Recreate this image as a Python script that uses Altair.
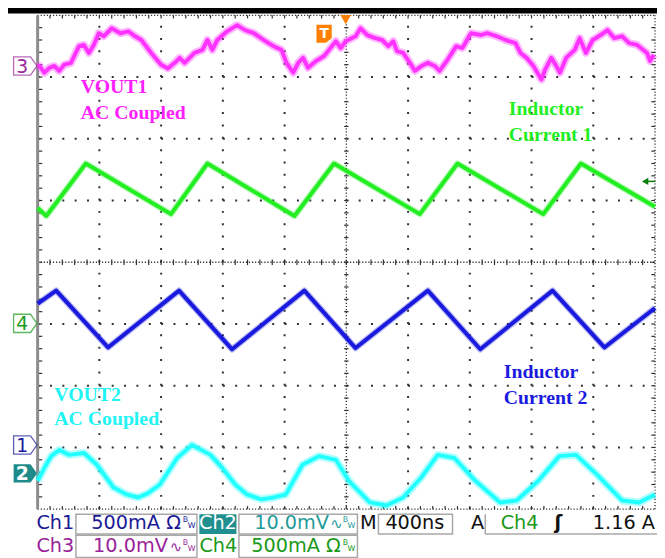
import altair as alt
import pandas as pd
import numpy as np

# Oscilloscope screen: 10 horizontal divisions (400 ns/div), 8 vertical divisions.
# x = divisions from the left graticule edge, y = divisions from the bottom edge.

# Ch3 - VOUT1 (AC coupled, 10 mV/div), magenta
ch3_x = [0.00, 0.03, 0.11, 0.19, 0.27, 0.35, 0.43, 0.54, 0.67, 0.75, 0.83, 0.91, 0.99, 1.07, 1.20, 1.34,
         1.47, 1.58, 1.68, 1.84, 2.00, 2.11, 2.22, 2.30, 2.38, 2.54, 2.67, 2.75, 2.83, 2.91, 3.07, 3.23,
         3.36, 3.50, 3.66, 3.82, 3.95, 4.03, 4.14, 4.22, 4.30, 4.38, 4.51, 4.64, 4.72, 4.83, 4.91, 4.99,
         5.15, 5.23, 5.34, 5.47, 5.58, 5.68, 5.76, 5.82, 5.92, 6.03, 6.11, 6.22, 6.32, 6.43, 6.51, 6.64,
         6.78, 6.88, 6.99, 7.02, 7.18, 7.28, 7.44, 7.58, 7.74, 7.82, 7.92, 8.03, 8.16, 8.22, 8.32, 8.40,
         8.46, 8.56, 8.70, 8.78, 8.88, 8.99, 9.12, 9.23, 9.34, 9.47, 9.58, 9.71, 9.87, 9.92, 9.98]
ch3_y = [7.16, 7.18, 7.07, 7.15, 7.18, 7.10, 7.20, 7.23, 7.50, 7.52, 7.39, 7.52, 7.71, 7.66, 7.79, 7.71,
         7.74, 7.66, 7.60, 7.39, 7.20, 7.14, 7.23, 7.31, 7.23, 7.39, 7.44, 7.60, 7.44, 7.60, 7.74, 7.84,
         7.76, 7.71, 7.60, 7.50, 7.44, 7.23, 7.07, 7.23, 7.31, 7.15, 7.26, 7.34, 7.44, 7.58, 7.47, 7.58,
         7.66, 7.79, 7.68, 7.63, 7.60, 7.50, 7.58, 7.42, 7.39, 7.23, 7.10, 7.18, 7.23, 7.18, 7.10, 7.28,
         7.50, 7.47, 7.66, 7.71, 7.68, 7.71, 7.66, 7.60, 7.55, 7.39, 7.31, 7.18, 6.96, 7.12, 7.31, 7.18,
         7.07, 7.31, 7.44, 7.63, 7.39, 7.60, 7.68, 7.76, 7.63, 7.66, 7.55, 7.52, 7.39, 7.26, 7.36]

# Ch4 - Inductor Current 1 (500 mA/div), green
ch4_x = [0.00, 0.14, 0.78, 2.16, 2.75, 4.16, 4.80, 6.19, 6.80, 8.19, 8.80, 10.00]
ch4_y = [4.88, 4.75, 5.60, 4.78, 5.60, 4.75, 5.60, 4.78, 5.60, 4.78, 5.60, 4.90]

# Ch1 - Inductor Current 2 (500 mA/div), blue
ch1_x = [0.00, 0.30, 1.14, 2.29, 3.15, 4.32, 5.15, 6.32, 7.17, 8.34, 9.18, 10.00]
ch1_y = [3.33, 3.54, 2.62, 3.54, 2.59, 3.54, 2.61, 3.54, 2.59, 3.54, 2.62, 3.26]

# Ch2 - VOUT2 (AC coupled, 10 mV/div), cyan
ch2_x = [0.00, 0.11, 0.22, 0.35, 0.51, 0.75, 0.96, 1.23, 1.44, 1.63, 1.79, 1.98, 2.26, 2.50, 2.80, 2.99,
         3.20, 3.39, 3.62, 3.82, 4.02, 4.29, 4.56, 4.83, 5.04, 5.38, 5.65, 5.92, 6.21, 6.48, 6.75, 7.09,
         7.49, 7.76, 8.11, 8.45, 8.72, 9.06, 9.47, 9.74, 10.00]
ch2_y = [0.46, 0.67, 0.86, 0.96, 0.88, 0.91, 0.72, 0.35, 0.24, 0.19, 0.26, 0.40, 0.83, 1.04, 0.88, 0.67,
         0.40, 0.24, 0.16, 0.19, 0.24, 0.72, 0.86, 0.80, 0.46, 0.11, 0.06, 0.19, 0.51, 0.88, 0.83, 0.46,
         0.11, 0.14, 0.46, 0.86, 0.88, 0.56, 0.14, 0.11, 0.24]

# On-screen annotations
note_text = ["VOUT1", "AC Coupled", "Inductor", "Current 1", "Inductor", "Current 2", "VOUT2", "AC Coupled"]
note_x = [0.70, 0.70, 7.63, 7.63, 7.55, 7.55, 0.27, 0.27]
note_y = [6.74, 6.32, 6.38, 5.97, 2.13, 1.71, 1.76, 1.36]
note_color = ["#ff22ff", "#ff22ff", "#22ee22", "#22ee22", "#1a1ae0", "#1a1ae0", "#22f4f4", "#22f4f4"]

# Channel reference markers
mark_label = ["3", "4", "1", "2"]
mark_y = [7.18, 3.01, 1.04, 0.58]
mark_color = ["#9a2a9a", "#1a9a1a", "#1a1a9a", "#1f8a8a"]

# Status bar
NAVY, TEAL, PURPLE, GREEN, BLACK = "#1a1a96", "#1f9a9a", "#9a1f9a", "#1a991a", "#111111"
st_left = [("Ch1", -0.02, -0.32, NAVY), ("M", 5.22, -0.32, BLACK), ("A", 7.02, -0.32, BLACK),
           ("Ch4", 7.50, -0.32, GREEN), ("Ch3", -0.02, -0.69, PURPLE), ("Ch4", 2.62, -0.69, GREEN)]
st_right = [("500mA Ω", 2.32, -0.32, NAVY), ("10.0mV", 4.72, -0.32, TEAL), ("1.16 A", 10.0, -0.32, BLACK),
            ("10.0mV", 2.11, -0.69, PURPLE), ("500mA Ω", 4.91, -0.69, GREEN)]
st_center = [("Ch2", 2.92, -0.32, "#ffffff"), ("400ns", 6.11, -0.32, BLACK)]
st_wave = [("∿", 4.74, -0.32, TEAL), ("∿", 2.14, -0.69, PURPLE)]
st_bw = [(2.35, -0.32, NAVY), (4.94, -0.32, TEAL), (2.35, -0.69, PURPLE), (4.94, -0.69, GREEN)]
boxes = [(0.62, 2.58, -0.08, -0.40), (3.26, 5.18, -0.08, -0.40), (5.52, 6.72, -0.08, -0.40),
         (0.62, 2.58, -0.42, -0.78), (3.26, 5.18, -0.42, -0.78)]

XS = alt.Scale(domain=[0, 10], nice=False, zero=False)
YS = alt.Scale(domain=[0, 8], nice=False, zero=False)


def ex(f="x"):
    return alt.X(f"{f}:Q", scale=XS, axis=None)


def ey(f="y"):
    return alt.Y(f"{f}:Q", scale=YS, axis=None)


layers = []

# black strip at top of the screen
layers.append(alt.Chart(pd.DataFrame({"x": [-1], "x2": [11], "y": [8.03], "y2": [8.3]})).mark_rect(color="black")
              .encode(x=ex(), x2="x2:Q", y=ey(), y2="y2:Q"))

# graticule: sparse dotted major lines
vmaj = [1, 2, 3, 4, 6, 7, 8, 9]
hmaj = [1, 2, 3, 5, 6, 7]
layers.append(alt.Chart(pd.DataFrame({"x": vmaj, "y": [0] * 8, "y2": [8] * 8}))
              .mark_rule(color="#303030", strokeWidth=2, strokeDash=[2, 10.5])
              .encode(x=ex(), y=ey(), y2="y2:Q"))
layers.append(alt.Chart(pd.DataFrame({"y": hmaj, "x": [0] * 6, "x2": [10] * 6}))
              .mark_rule(color="#303030", strokeWidth=2, strokeDash=[2, 10.5])
              .encode(y=ey(), x=ex(), x2="x2:Q"))
# centre lines and top/bottom/right borders: dense dotted
layers.append(alt.Chart(pd.DataFrame({"x": [5, 10], "y": [0, 0], "y2": [8, 8]}))
              .mark_rule(color="#303030", strokeWidth=1.3, strokeDash=[1.2, 1.9])
              .encode(x=ex(), y=ey(), y2="y2:Q"))
layers.append(alt.Chart(pd.DataFrame({"y": [4, 8, 0], "x": [0, 0, 0], "x2": [10, 10, 10]}))
              .mark_rule(color="#303030", strokeWidth=1.3, strokeDash=[1.2, 1.9])
              .encode(y=ey(), x=ex(), x2="x2:Q"))
# minor ticks
tx = np.round(np.arange(0.2, 10.0, 0.2), 2)
ty = np.round(np.arange(0.2, 8.0, 0.2), 2)
tick_h = pd.concat([
    pd.DataFrame({"x": tx, "y": 3.955, "y2": 4.045}),
    pd.DataFrame({"x": tx, "y": 7.95, "y2": 8.0}),
    pd.DataFrame({"x": tx, "y": 0.0, "y2": 0.05}),
])
tick_v = pd.concat([
    pd.DataFrame({"y": ty, "x": 4.965, "x2": 5.035}),
    pd.DataFrame({"y": ty, "x": 9.94, "x2": 10.0}),
    pd.DataFrame({"y": ty, "x": 0.02, "x2": 0.075}),
])
layers.append(alt.Chart(tick_h).mark_rule(color="#303030", strokeWidth=1.2)
              .encode(x=ex(), y=ey(), y2="y2:Q"))
layers.append(alt.Chart(tick_v).mark_rule(color="#303030", strokeWidth=1.2)
              .encode(y=ey(), x=ex(), x2="x2:Q"))
# left border: grey bar
layers.append(alt.Chart(pd.DataFrame({"x": [0], "y": [0], "y2": [8]}))
              .mark_rule(color="#8c8c8c", strokeWidth=3)
              .encode(x=ex(), y=ey(), y2="y2:Q"))


def trace(xs, ys, color, core=3.6, halo=7.5, halo_op=0.3):
    df = pd.DataFrame({"x": xs, "y": ys, "i": range(len(xs))})
    base = alt.Chart(df).encode(x=ex(), y=ey(), order="i:Q")
    return alt.layer(base.mark_line(color=color, strokeWidth=halo, opacity=halo_op, strokeJoin="round"),
                     base.mark_line(color=color, strokeWidth=core, strokeJoin="round"))


layers.append(trace(ch3_x, ch3_y, "#ff33ff", core=4, halo=8, halo_op=0.35))
layers.append(trace(ch4_x, ch4_y, "#22ee22", core=4, halo=6.5))
layers.append(trace(ch1_x, ch1_y, "#1a1ade", core=4, halo=6.5))
layers.append(trace(ch2_x, ch2_y, "#22ffff", core=4, halo=8, halo_op=0.35))

# annotations
notes = pd.DataFrame({"t": note_text, "x": note_x, "y": note_y, "c": note_color})
layers.append(alt.Chart(notes).mark_text(align="left", baseline="alphabetic", font="Liberation Serif",
                                         fontWeight="bold", fontSize=20)
              .encode(x=ex(), y=ey(), text="t:N", color=alt.Color("c:N", scale=None)))

# channel markers
ARROW = "M-1,-0.78L0.45,-0.78L1,0L0.45,0.78L-1,0.78Z"
mk = pd.DataFrame({"t": mark_label, "y": mark_y, "c": mark_color, "x": [-0.2] * 4, "tx": [-0.25] * 4})
layers.append(alt.Chart(mk[mk.t != "2"]).mark_point(shape=ARROW, size=560, filled=False, strokeWidth=1.3)
              .encode(x=ex(), y=ey(), color=alt.Color("c:N", scale=None)))
layers.append(alt.Chart(mk[mk.t == "2"]).mark_point(shape=ARROW, size=560, filled=True, opacity=1)
              .encode(x=ex(), y=ey(), color=alt.Color("c:N", scale=None)))
layers.append(alt.Chart(mk[mk.t != "2"]).mark_text(font="DejaVu Sans", fontSize=19, baseline="middle", dy=1)
              .encode(x=ex("tx"), y=ey(), text="t:N", color=alt.Color("c:N", scale=None)))
layers.append(alt.Chart(mk[mk.t == "2"]).mark_text(font="DejaVu Sans", fontSize=19, fontWeight="bold",
                                                   baseline="middle", dy=1, color="white")
              .encode(x=ex("tx"), y=ey(), text="t:N"))

# trigger markers
TAG = "M-0.85,-1L0.85,-1L0.85,0.5L0.2,1L-0.85,1Z"
layers.append(alt.Chart(pd.DataFrame({"x": [4.64], "y": [7.70]}))
              .mark_point(shape=TAG, size=330, filled=True, color="#ff7f00", opacity=1)
              .encode(x=ex(), y=ey()))
layers.append(alt.Chart(pd.DataFrame({"x": [4.64], "y": [7.70], "t": ["T"]}))
              .mark_text(font="DejaVu Sans", fontWeight="bold", fontSize=14, color="white", baseline="middle")
              .encode(x=ex(), y=ey(), text="t:N"))
layers.append(alt.Chart(pd.DataFrame({"x": [4.99], "y": [7.93]}))
              .mark_point(shape="triangle-down", size=120, filled=True, color="#ff7f00", opacity=1)
              .encode(x=ex(), y=ey()))
layers.append(alt.Chart(pd.DataFrame({"x": [9.84], "y": [5.31]}))
              .mark_point(shape="triangle-left", size=55, filled=True, color="#0a7d0a", opacity=1)
              .encode(x=ex(), y=ey()))
layers.append(alt.Chart(pd.DataFrame({"x": [9.86], "x2": [10.0], "y": [5.31]}))
              .mark_rule(color="#0a7d0a", strokeWidth=1.5)
              .encode(x=ex(), x2="x2:Q", y=ey()))

# status bar
bx = pd.DataFrame(boxes, columns=["x", "x2", "y", "y2"])
layers.append(alt.Chart(pd.DataFrame({"x": [2.62], "x2": [3.22], "y": [-0.08], "y2": [-0.40]}))
              .mark_rect(color="#1f8f8f").encode(x=ex(), x2="x2:Q", y=ey(), y2="y2:Q"))
layers.append(alt.Chart(bx).mark_rect(fill=None, stroke="#a8a8a8", strokeWidth=1.5)
              .encode(x=ex(), x2="x2:Q", y=ey(), y2="y2:Q"))
layers.append(alt.Chart(pd.DataFrame({"x": [7.25], "y": [-0.08], "y2": [-0.40]}))
              .mark_rule(color="#a8a8a8", strokeWidth=1.5).encode(x=ex(), y=ey(), y2="y2:Q"))
layers.append(alt.Chart(pd.DataFrame({"x": [7.25], "x2": [10.1], "y": [-0.40]}))
              .mark_rule(color="#a8a8a8", strokeWidth=1.5).encode(x=ex(), x2="x2:Q", y=ey()))


def status(rows, align, size=19.5, weight="normal"):
    df = pd.DataFrame(rows, columns=["t", "x", "y", "c"])
    return (alt.Chart(df).mark_text(align=align, baseline="alphabetic", font="DejaVu Sans",
                                     fontSize=size, fontWeight=weight)
            .encode(x=ex(), y=ey(), text="t:N", color=alt.Color("c:N", scale=None)))


layers.append(status(st_left, "left"))
layers.append(status(st_right, "right"))
layers.append(status(st_center, "center"))
layers.append(status(st_wave, "left", size=15))
layers.append(status([("ʃ", 8.37, -0.32, BLACK)], "left", size=19, weight="bold"))
bw_b = [("B", x, y + 0.11, c) for x, y, c in st_bw]
bw_w = [("W", x + 0.08, y + 0.01, c) for x, y, c in st_bw]
layers.append(status(bw_b + bw_w, "left", size=8))

chart = alt.layer(*layers).properties(
    width=625, height=500,
    padding={"left": 30, "top": 4, "right": 2, "bottom": 46},
    autosize=alt.AutoSizeParams(type="none"),
    background="white",
).configure_view(stroke=None)

chart.save("out.html", embed_options={"renderer": "svg", "actions": False})
